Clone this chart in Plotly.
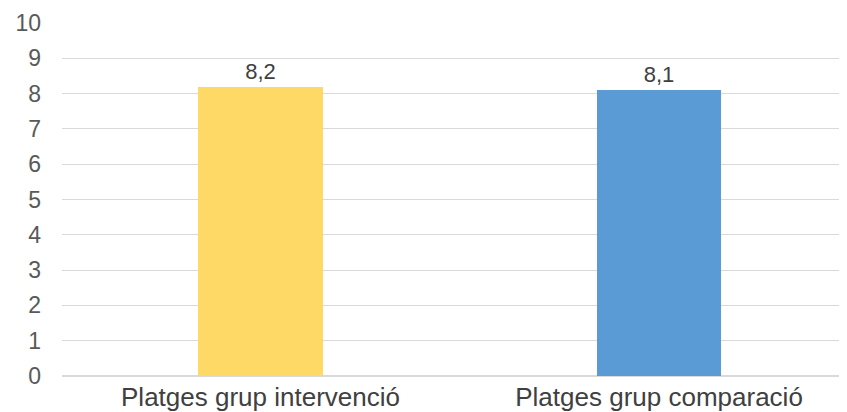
import plotly.graph_objects as go

categories = ["Platges grup intervenció", "Platges grup comparació"]
values = [8.2, 8.1]
colors = ["#FFD966", "#5B9BD5"]
y_ticks = list(range(0, 11))

fig = go.Figure(go.Bar(
    x=categories, y=values, marker=dict(color=colors, line=dict(width=0)),
    width=0.313, text=[f"{v:.1f}".replace(".", ",") for v in values],
    textposition="outside", cliponaxis=False,
    textfont=dict(family="Liberation Sans, Arial", size=22, color="#404040"),
))
fig.update_layout(
    width=847, height=412, margin=dict(l=54, r=15, t=15, b=44),
    plot_bgcolor="white", paper_bgcolor="white", showlegend=False,
    font=dict(family="Liberation Sans, Arial", color="#595959"),
    bargap=0,
)
fig.update_xaxes(range=[-0.498, 1.454], tickfont=dict(size=26, color="#404040"),
                 showgrid=False, showline=False, ticks="", automargin=False,
                 ticklabelstandoff=3)
fig.update_yaxes(range=[0, 10], tickvals=y_ticks, tickfont=dict(size=23, color="#595959"),
                 showgrid=True, gridcolor="#D9D9D9", gridwidth=1, zeroline=True,
                 zerolinecolor="#D9D9D9", ticks="", ticklabelstandoff=20, automargin=False)
fig.write_html("out.html")
